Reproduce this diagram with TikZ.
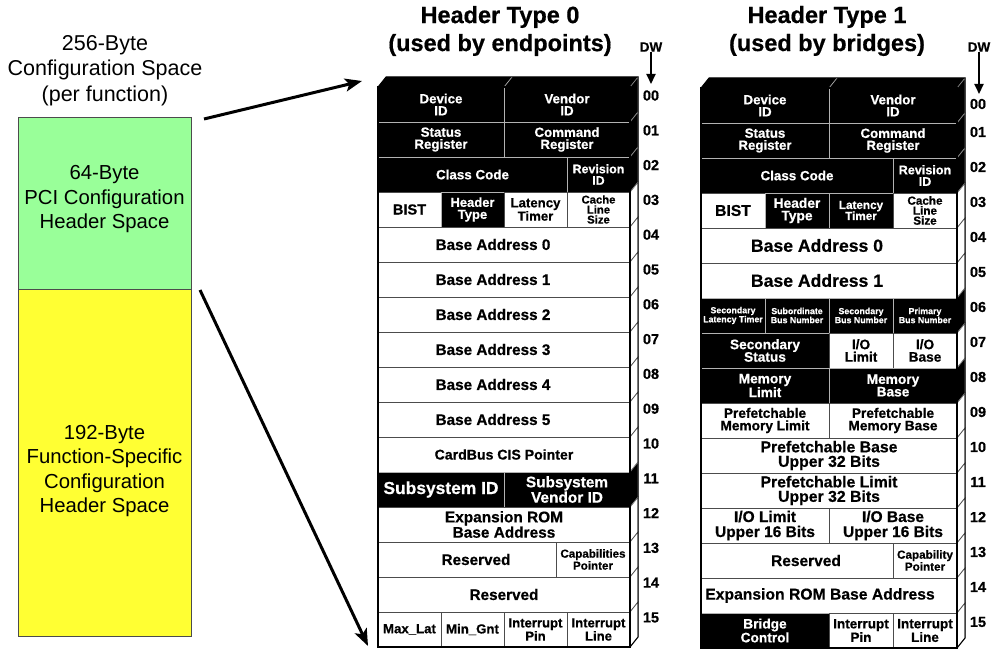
\documentclass[tikz,border=0pt]{standalone}
\usepackage{fontspec}
\setmainfont{Liberation Sans}[BoldFeatures={FakeBold=0.6}]
\usetikzlibrary{arrows.meta}
\definecolor{pcigreen}{RGB}{153,255,153}
\definecolor{pciyellow}{RGB}{255,255,51}
\tikzset{
  fs/.style 2 args={font=\bfseries\fontsize{#1}{#2}\selectfont},
  rs/.style 2 args={font=\fontsize{#1}{#2}\selectfont},
  cellbase/.style={inner sep=0pt, outer sep=0pt, align=center, line width=0.7pt},
  wcell/.style={cellbase, draw=black!70, fill=white, text=black},
  bcell/.style={cellbase, draw=black!30, fill=black, text=white},
  sideb/.style={fill=black, draw=black!45, line width=0.7pt},
  sidew/.style={fill=white, draw=black!70, line width=0.7pt},
  spacebox/.style={draw=black!70, line width=0.8pt, inner sep=0pt},
  lefttext/.style={rs={20.3}{24.5}, align=center, inner sep=0pt, text=black},
  title/.style={fs={23.5}{28}, align=center, inner sep=0pt},
  dwnum/.style={fs={14.5}{14}, inner sep=0pt},
  dwlabel/.style={fs={13.5}{14}, inner sep=0pt},
  bigarrow/.style={-{Stealth[length=17pt,width=13pt,inset=4pt]}, line width=3pt},
  dwarrow/.style={-{Triangle[length=10pt,width=9pt]}, line width=2pt}
}
\newcommand\CellT[7]{%
  \node[#1, minimum width={(#4-#3)*1pt}, minimum height=35pt] (#2) at ({(#3+#4)/2},{#5+35*#6+17.5}) {#7};}
\begin{document}
\begin{tikzpicture}[x=1pt,y=-1pt]
\useasboundingbox (0,0) rectangle (1004,655);

% ---------------- left column ----------------
\node[lefttext, rs={21.5}{25.5}] (cfgtitle) at (105,70.5) {256-Byte\\Configuration Space\\(per function)};
\node[spacebox, fill=pcigreen, minimum width=173pt, minimum height=172pt] (green) at (104.5,203) {};
\node[lefttext] (greentext) at ([yshift=3.5pt]green.center) {64-Byte\\PCI Configuration\\Header Space};
\node[spacebox, fill=pciyellow, minimum width=173pt, minimum height=347pt] (yellow) at (104.5,462.5) {};
\node[lefttext] (yellowtext) at ([yshift=-8.5pt]yellow.center) {192-Byte\\Function-Specific\\Configuration\\Header Space};

\coordinate (a1s) at (204,119);
\coordinate (a1e) at (362,81);
\coordinate (a2s) at (200,290);
\coordinate (a2e) at (368,646);
\draw[bigarrow] (a1s) -- (a1e);
\draw[bigarrow] (a2s) -- (a2e);

% ---------------- Header Type 0 ----------------
\node[title] (h0title) at (500,31) {Header Type 0\\(used by endpoints)};
\node[dwlabel] (dw0) at (651,47) {DW};
\coordinate (dw0tip) at (651,84);
\draw[dwarrow] (dw0.south) -- (dw0tip);

\fill[black] (378,87) -- (386,77) -- (638,77) -- (630,87) -- cycle;
\draw[black!30, line width=0.7pt] (504,87) -- (512,77);
\foreach \k in {3,...,10,12,13,14,15}
  \filldraw[sidew] (630,{87+35*\k}) -- (638,{77+35*\k}) -- (638,{112+35*\k}) -- (630,{122+35*\k}) -- cycle;
\foreach \k in {0,1,2,11}
  \filldraw[sideb] (630,{87+35*\k}) -- (638,{77+35*\k}) -- (638,{112+35*\k}) -- (630,{122+35*\k}) -- cycle;

\CellT{bcell,fs={13.3}{12}}{t0dev}{378}{504}{87}{0}{Device\\ID}
\CellT{bcell,fs={13.3}{12}}{t0ven}{504}{630}{87}{0}{Vendor\\ID}
\CellT{bcell,fs={13.3}{12}}{t0sta}{378}{504}{87}{1}{Status\\Register}
\CellT{bcell,fs={13.3}{12}}{t0cmd}{504}{630}{87}{1}{Command\\Register}
\CellT{bcell,fs={13.4}{12}}{t0cls}{378}{567}{87}{2}{Class Code}
\CellT{bcell,fs={12.4}{11.5}}{t0rev}{567}{630}{87}{2}{Revision\\ID}
\CellT{wcell,fs={14.6}{14}}{t0bist}{378}{441}{87}{3}{BIST}
\CellT{bcell,fs={13}{12}}{t0hdr}{441}{504}{87}{3}{Header\\Type}
\CellT{wcell,fs={13.2}{12}}{t0lat}{504}{567}{87}{3}{Latency\\Timer}
\CellT{wcell,fs={11.3}{10}}{t0cache}{567}{630}{87}{3}{Cache\\Line\\Size}
\foreach \k [evaluate=\k as \i using int(\k-4)] in {4,...,9}
  {\CellT{wcell,fs={15.3}{14}}{t0bar\i}{378}{630}{87}{\k}{Base Address \i\hspace*{22pt}}}
\CellT{wcell,fs={14.1}{14}}{t0cis}{378}{630}{87}{10}{CardBus CIS Pointer}
\CellT{bcell,fs={17.4}{16}}{t0ssid}{378}{504}{87}{11}{Subsystem ID}
\CellT{bcell,fs={15.4}{13.5}}{t0ssvid}{504}{630}{87}{11}{Subsystem\\Vendor ID}
\CellT{wcell,fs={15.4}{13.5}}{t0rom}{378}{630}{87}{12}{Expansion ROM\\Base Address}
\CellT{wcell,fs={15.3}{14}}{t0res1}{378}{556}{87}{13}{\hspace*{18pt}Reserved}
\CellT{wcell,fs={11.6}{12}}{t0cap}{556}{630}{87}{13}{Capabilities\\Pointer}
\CellT{wcell,fs={15.3}{14}}{t0res2}{378}{630}{87}{14}{Reserved}
\CellT{wcell,fs={13.2}{12}}{t0maxl}{378}{441}{87}{15}{Max\_Lat}
\CellT{wcell,fs={13.2}{12}}{t0ming}{441}{504}{87}{15}{Min\_Gnt}
\CellT{wcell,fs={13.1}{12}}{t0ipin}{504}{567}{87}{15}{Interrupt\\Pin}
\CellT{wcell,fs={13.1}{12}}{t0iline}{567}{630}{87}{15}{Interrupt\\Line}

\draw[line width=1pt] (630,647) -- (638,637) -- (638,77) -- (386,77) -- (378,87);
\draw[line width=2pt] (378,87) rectangle (630,647);
\foreach \k in {0,...,15}
  \node[dwnum] (t0n\k) at (651,{95.5+34.8*\k}) {\ifnum\k<10 0\fi\k};

% ---------------- Header Type 1 ----------------
\node[title] (h1title) at (827,31) {Header Type 1\\(used by bridges)};
\node[dwlabel] (dw1) at (979,47) {DW};
\coordinate (dw1tip) at (979,94);
\draw[dwarrow] (dw1.south) -- (dw1tip);

\fill[black] (701,88) -- (709,78) -- (965,78) -- (957,88) -- cycle;
\draw[black!30, line width=0.7pt] (829,88) -- (837,78);
\foreach \k in {3,4,5,7,9,10,11,12,13,14,15}
  \filldraw[sidew] (957,{88+35*\k}) -- (965,{78+35*\k}) -- (965,{113+35*\k}) -- (957,{123+35*\k}) -- cycle;
\foreach \k in {0,1,2,6,8}
  \filldraw[sideb] (957,{88+35*\k}) -- (965,{78+35*\k}) -- (965,{113+35*\k}) -- (957,{123+35*\k}) -- cycle;

\CellT{bcell,fs={13.3}{12}}{t1dev}{701}{829}{88}{0}{Device\\ID}
\CellT{bcell,fs={13.3}{12}}{t1ven}{829}{957}{88}{0}{Vendor\\ID}
\CellT{bcell,fs={13.3}{12}}{t1sta}{701}{829}{88}{1}{Status\\Register}
\CellT{bcell,fs={13.3}{12}}{t1cmd}{829}{957}{88}{1}{Command\\Register}
\CellT{bcell,fs={13.4}{12}}{t1cls}{701}{893}{88}{2}{Class Code}
\CellT{bcell,fs={12.6}{11.5}}{t1rev}{893}{957}{88}{2}{Revision\\ID}
\CellT{wcell,fs={15.7}{14}}{t1bist}{701}{765}{88}{3}{BIST}
\CellT{bcell,fs={13.8}{12.5}}{t1hdr}{765}{829}{88}{3}{Header\\Type}
\CellT{bcell,fs={11.7}{11}}{t1lat}{829}{893}{88}{3}{Latency\\Timer}
\CellT{wcell,fs={11.7}{10}}{t1cache}{893}{957}{88}{3}{Cache\\Line\\Size}
\CellT{wcell,fs={17.6}{16}}{t1bar0}{701}{957}{88}{4}{Base Address 0\hspace*{24pt}}
\CellT{wcell,fs={17.6}{16}}{t1bar1}{701}{957}{88}{5}{Base Address 1\hspace*{24pt}}
\CellT{bcell,fs={8.8}{9}}{t1slt}{701}{765}{88}{6}{Secondary\\Latency Timer}
\CellT{bcell,fs={8.8}{9}}{t1sub}{765}{829}{88}{6}{Subordinate\\Bus Number}
\CellT{bcell,fs={8.8}{9}}{t1sec}{829}{893}{88}{6}{Secondary\\Bus Number}
\CellT{bcell,fs={8.8}{9}}{t1pri}{893}{957}{88}{6}{Primary\\Bus Number}
\CellT{bcell,fs={13.7}{12.5}}{t1secst}{701}{829}{88}{7}{Secondary\\Status}
\CellT{wcell,fs={13.7}{12.5}}{t1iolim}{829}{893}{88}{7}{I/O\\Limit}
\CellT{wcell,fs={13.7}{12.5}}{t1iobase}{893}{957}{88}{7}{I/O\\Base}
\CellT{bcell,fs={13.7}{12.5}}{t1memlim}{701}{829}{88}{8}{Memory\\Limit}
\CellT{bcell,fs={13.7}{12.5}}{t1membase}{829}{957}{88}{8}{Memory\\Base}
\CellT{wcell,fs={13.7}{12.5}}{t1pmlim}{701}{829}{88}{9}{Prefetchable\\Memory Limit}
\CellT{wcell,fs={13.7}{12.5}}{t1pmbase}{829}{957}{88}{9}{Prefetchable\\Memory Base}
\CellT{wcell,fs={15.8}{14.5}}{t1pbu}{701}{957}{88}{10}{Prefetchable Base\\Upper 32 Bits}
\CellT{wcell,fs={15.8}{14.5}}{t1plu}{701}{957}{88}{11}{Prefetchable Limit\\Upper 32 Bits}
\CellT{wcell,fs={15.5}{15}}{t1iolu}{701}{829}{88}{12}{I/O Limit\\Upper 16 Bits}
\CellT{wcell,fs={15.5}{15}}{t1iobu}{829}{957}{88}{12}{I/O Base\\Upper 16 Bits}
\CellT{wcell,fs={15.5}{14}}{t1res}{701}{893}{88}{13}{\hspace*{18pt}Reserved}
\CellT{wcell,fs={11.7}{12}}{t1cap}{893}{957}{88}{13}{Capability\\Pointer}
\CellT{wcell,fs={15.7}{14}}{t1rom}{701}{957}{88}{14}{Expansion ROM Base Address\hspace*{18pt}}
\CellT{bcell,fs={13.7}{12.5}}{t1brc}{701}{829}{88}{15}{Bridge\\Control}
\CellT{wcell,fs={13.5}{12.5}}{t1ipin}{829}{893}{88}{15}{Interrupt\\Pin}
\CellT{wcell,fs={13.5}{12.5}}{t1iline}{893}{957}{88}{15}{Interrupt\\Line}

\draw[line width=1pt] (957,648) -- (965,638) -- (965,78) -- (709,78) -- (701,88);
\draw[line width=2pt] (701,88) rectangle (957,648);
\node[dwnum] (t1n0) at (978,104) {00};
\foreach \k in {1,...,15}
  \node[dwnum] (t1n\k) at (978,{97+35*\k}) {\ifnum\k<10 0\fi\k};
\end{tikzpicture}
\end{document}
